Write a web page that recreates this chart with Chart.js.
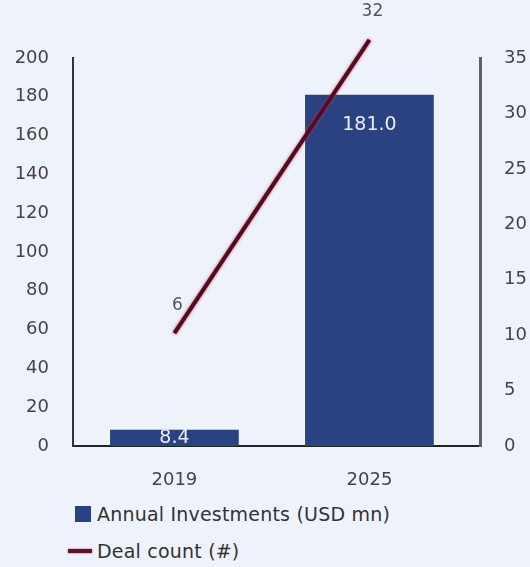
<!DOCTYPE html>
<html>
<head>
<meta charset="utf-8">
<script src="https://cdn.jsdelivr.net/npm/chart.js@4/dist/chart.umd.min.js"></script>
<style>
    body { margin: 0; background: #eef2fb; }
    #wrap { position: relative; width: 530px; height: 567px; font-family: "DejaVu Sans", sans-serif; }
    #box { position: absolute; left: 0; top: 0; width: 530px; height: 490px; }
    .legend-item { position: absolute; left: 68px; display: flex; align-items: center; font-size: 19px; color: #333; letter-spacing: 0.2px; }
    .legend-item .swatch { display: inline-block; margin-right: 6px; }
</style>
</head>
<body>
<div id="wrap">
    <div id="box"><canvas id="chart"></canvas></div>
    <div class="legend-item" style="top: 503px;">
        <span class="swatch" style="width: 16px; height: 16px; background: #2b4282; margin-left: 7px;"></span>
        <span>Annual Investments (USD mn)</span>
    </div>
    <div class="legend-item" style="top: 540px;">
        <span class="swatch" style="width: 24px; height: 4px; background: #5a1229; box-shadow: 0 0 2px #d8304c; margin-right: 5px;"></span>
        <span>Deal count (#)</span>
    </div>
</div>
<script>
const years = ['2019', '2025'];
const investments = [8.4, 181.0];
const dealCounts = [6, 32];
const leftTicks = [0, 20, 40, 60, 80, 100, 120, 140, 160, 180, 200];
const rightTicks = [0, 5, 10, 15, 20, 25, 30, 35];

const tickFont = {family: 'DejaVu Sans', size: 18};

// value labels on bars and line points, plus the red glow on the deal line
const valueLabels = {
    id: 'valueLabels',
    beforeDatasetDraw(chart, args) {
        if (args.index === 1) {
            chart.ctx.save();
            chart.ctx.shadowColor = 'rgba(225, 45, 75, 0.9)';
            chart.ctx.shadowBlur = 3;
        }
    },
    afterDatasetDraw(chart, args) {
        if (args.index === 1) {
            chart.ctx.restore();
        }
    },
    afterDatasetsDraw(chart) {
        const ctx = chart.ctx;
        ctx.save();
        ctx.textAlign = 'center';
        ctx.textBaseline = 'middle';
        ctx.font = '19px "DejaVu Sans"';
        chart.getDatasetMeta(0).data.forEach((bar, i) => {
            const y = Math.min(bar.y + 30, (bar.y + bar.base) / 2);
            ctx.fillStyle = '#e8ecf8';
            ctx.fillText(investments[i].toFixed(1), bar.x, y);
        });
        ctx.font = '17px "DejaVu Sans"';
        chart.getDatasetMeta(1).data.forEach((pt, i) => {
            ctx.fillStyle = '#555';
            ctx.fillText(String(dealCounts[i]), pt.x + 3, pt.y - 28);
        });
        ctx.restore();
    }
};

let chart = new Chart(document.getElementById('chart'), {
    data: {
        datasets: [
            {
                type: 'bar',
                label: 'Annual Investments (USD mn)',
                data: investments.map((v, i) => ({x: i, y: v})),
                backgroundColor: '#2b4282',
                yAxisID: 'y',
                categoryPercentage: 1,
                barPercentage: 0.66,
                order: 2
            },
            {
                type: 'line',
                label: 'Deal count (#)',
                data: dealCounts.map((v, i) => ({x: i, y: v})),
                borderColor: '#4a0f22',
                borderWidth: 4,
                pointRadius: 0,
                yAxisID: 'yDeals',
                clip: false,
                order: 1
            }
        ]
    },
    options: {
        responsive: true,
        maintainAspectRatio: false,
        animation: false,
        layout: {padding: {top: 58, left: 0, right: 0, bottom: 0}},
        plugins: {legend: {display: false}, tooltip: {enabled: false}},
        scales: {
            x: {
                type: 'linear',
                offset: false,
                min: -0.52,
                max: 1.567,
                afterBuildTicks: (scale) => { scale.ticks = years.map((y, i) => ({value: i})); },
                grid: {display: false},
                border: {display: true, color: '#222', width: 2},
                ticks: {color: '#444', font: tickFont, padding: 16, callback: (v) => years[v]},
                afterFit: (scale) => { scale.height = 44; }
            },
            y: {
                position: 'left',
                min: 0,
                max: 200,
                afterBuildTicks: (scale) => { scale.ticks = leftTicks.map(v => ({value: v})); },
                grid: {display: false},
                border: {display: true, color: '#333', width: 2},
                ticks: {color: '#444', font: tickFont, padding: 16},
                afterFit: (scale) => { scale.width = 73; }
            },
            yRight: {
                position: 'right',
                min: 0,
                max: 35,
                afterBuildTicks: (scale) => { scale.ticks = rightTicks.map(v => ({value: v})); },
                grid: {display: false},
                border: {display: true, color: '#5a5f6a', width: 3},
                ticks: {color: '#444', font: tickFont, padding: 16},
                afterFit: (scale) => { scale.width = 50; }
            },
            yDeals: {
                display: false,
                min: -4,
                max: 30.4
            }
        }
    },
    plugins: [valueLabels]
});
</script>
</body>
</html>
